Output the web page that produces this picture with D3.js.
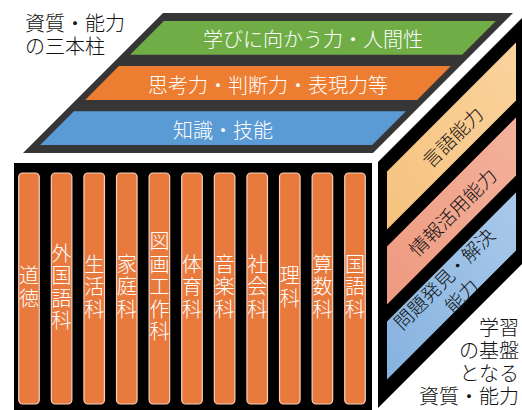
<!DOCTYPE html>
<html>
<head>
<meta charset="utf-8">
<script src="https://cdn.jsdelivr.net/npm/d3@7"></script>
<style>
  body { margin: 0; background: #fff; }
  svg { display: block; }
  text { font-family: "Noto Sans CJK JP", "Noto Sans", sans-serif; font-weight: 300; }
</style>
</head>
<body>
<div id="chart"></div>
<script>
// three pillars on the top face
const pillars = ["学びに向かう力・人間性", "思考力・判断力・表現力等", "知識・技能"];
const pillarColors = ["#70AD47", "#ED7D31", "#5B9BD5"];

// subjects on the front face
const subjects = ["道徳", "外国語科", "生活科", "家庭科", "図画工作科", "体育科", "音楽科", "社会科", "理科", "算数科", "国語科"];

// abilities on the side face
const abilities = [["言語能力"], ["情報活用能力"], ["問題発見・解決", "能力"]];
const abilityColors = [["#F6C27E", "#FAD39E"], ["#EE9A80", "#F3B29C"], ["#86B2DF", "#A9C9EA"]];

const titleLines = ["資質・能力", "の三本柱"];
const footLines = ["学習", "の基盤", "となる", "資質・能力"];

const width = 522;
const height = 410;

const svg = d3.select("#chart")
    .append("svg")
    .attr("width", width)
    .attr("height", height);

const defs = svg.append("defs");
abilityColors.forEach(function(c, i) {
    const g = defs.append("linearGradient")
        .attr("id", "ab" + i)
        .attr("x1", 0).attr("y1", 1).attr("x2", 1).attr("y2", 0);
    g.append("stop").attr("offset", "0%").attr("stop-color", c[0]);
    g.append("stop").attr("offset", "100%").attr("stop-color", c[1]);
});

// parallelogram sheared at 45 degrees: xl/xr are x at yTop
function shear(yTop, yBot, xl, xr) {
    const d = yBot - yTop;
    return [[xl, yTop], [xr, yTop], [xr - d, yBot], [xl - d, yBot]];
}

//-------------------------TOP FACE--------------------------//
const topY0 = 13, topY1 = 153, topL = 163, topR = 513;
svg.append("polygon")
    .attr("points", shear(topY0, topY1, topL, topR).join(" "))
    .attr("fill", "#363636");

const yPillar = d3.scaleBand()
    .domain(pillars)
    .range([topY0, topY1])
    .paddingInner(0.25)
    .paddingOuter(0.18);

const inset = 9;
const pill = svg.selectAll(".pillar")
    .data(pillars)
    .enter()
    .append("g");

pill.append("polygon")
    .attr("points", function(d) {
        const y0 = yPillar(d), y1 = y0 + yPillar.bandwidth();
        const off = y0 - topY0;
        return shear(y0, y1, topL - off + inset, topR - off - inset).join(" ");
    })
    .attr("fill", function(d, i) { return pillarColors[i]; });

pill.append("text")
    .attr("x", function(d) {
        const ym = yPillar(d) + yPillar.bandwidth() / 2;
        return (topL + topR) / 2 - (ym - topY0);
    })
    .attr("y", function(d) { return yPillar(d) + yPillar.bandwidth() / 2 + 1; })
    .attr("text-anchor", "middle")
    .attr("dominant-baseline", "central")
    .attr("fill", "#fff")
    .style("font-size", "20px")
    .text(function(d) { return d; });

//------------------------FRONT FACE-------------------------//
const frontX0 = 14, frontX1 = 372, frontY0 = 163;
svg.append("rect")
    .attr("x", frontX0).attr("y", frontY0)
    .attr("width", frontX1 - frontX0).attr("height", height - frontY0 + 5)
    .attr("fill", "#000");

const xSubj = d3.scaleBand()
    .domain(subjects)
    .range([frontX0, frontX1 - 2])
    .paddingInner(0.37)
    .paddingOuter(0.145);

const barTop = 173, barBot = 404;

const bars = svg.selectAll(".subj")
    .data(subjects)
    .enter()
    .append("g");

bars.append("rect")
    .attr("x", function(d) { return xSubj(d); })
    .attr("y", barTop)
    .attr("width", xSubj.bandwidth())
    .attr("height", barBot - barTop)
    .attr("rx", 4)
    .attr("fill", "#E97A3E")
    .attr("stroke", "#F6D2BC")
    .attr("stroke-width", 1.2);

// vertical writing, one text per bar
bars.append("text")
    .attr("x", function(d) { return xSubj(d) + xSubj.bandwidth() / 2; })
    .attr("y", 288)
    .attr("text-anchor", "middle")
    .attr("fill", "#fff")
    .style("writing-mode", "vertical-rl")
    .style("letter-spacing", "2.5px")
    .style("font-size", "20px")
    .text(function(d) { return d; });

//-------------------------SIDE FACE-------------------------//
const sideL = 378, sideR = 522;
const sideW = sideR - sideL;
svg.append("polygon")
    .attr("points", [[sideL, 162], [sideR, 162 - sideW], [sideR, 408 - sideW], [sideL, 408]].join(" "))
    .attr("fill", "#000");

const abL = 387, abR = 516, abW = abR - abL;
const yAb = d3.scaleBand()
    .domain(d3.range(abilities.length))
    .range([152, 399])
    .paddingInner(0.227)
    .paddingOuter(0.26);

const ab = svg.selectAll(".ability")
    .data(abilities)
    .enter()
    .append("g");

ab.append("polygon")
    .attr("points", function(d, i) {
        const y0 = yAb(i), y1 = y0 + yAb.bandwidth();
        return [[abL, y0], [abR, y0 - abW], [abR, y1 - abW], [abL, y1]].join(" ");
    })
    .attr("fill", function(d, i) { return "url(#ab" + i + ")"; });

ab.each(function(lines, i) {
    const cx = (abL + abR) / 2;
    const cy = yAb(i) + yAb.bandwidth() / 2 - abW / 2;
    const n = lines.length;
    d3.select(this).append("g")
        .attr("transform", "translate(" + cx + "," + cy + ") rotate(-45)")
        .append("text")
        .attr("text-anchor", "middle")
        .attr("dominant-baseline", "central")
        .attr("fill", "#111")
        .style("font-size", "19px")
        .selectAll("tspan")
        .data(lines)
        .enter()
        .append("tspan")
        .attr("x", 0)
        .attr("y", function(l, k) { return (k - (n - 1) / 2) * 24; })
        .text(function(l) { return l; });
});

//--------------------------LABELS---------------------------//
svg.append("text")
    .attr("fill", "#111")
    .style("font-size", "20px")
    .selectAll("tspan")
    .data(titleLines)
    .enter()
    .append("tspan")
    .attr("x", 25)
    .attr("y", function(d, i) { return 31 + i * 23; })
    .text(function(d) { return d; });

svg.append("text")
    .attr("text-anchor", "end")
    .attr("fill", "#111")
    .style("font-size", "20px")
    .selectAll("tspan")
    .data(footLines)
    .enter()
    .append("tspan")
    .attr("x", 519)
    .attr("y", function(d, i) { return 335 + i * 23; })
    .text(function(d) { return d; });
</script>
</body>
</html>
